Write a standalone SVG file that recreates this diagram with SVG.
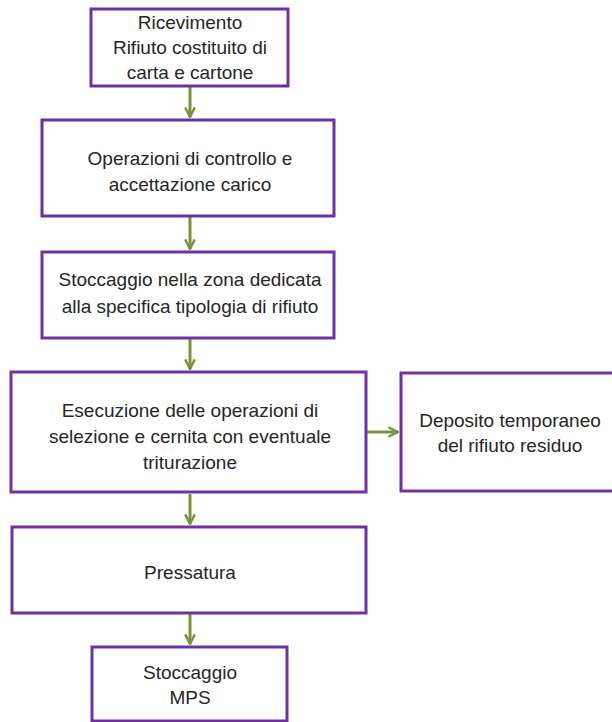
<svg xmlns="http://www.w3.org/2000/svg" width="612" height="722" viewBox="0 0 612 722">
<style>
.box{fill:#fff;stroke:#7030A0;stroke-width:3}
.t{font-family:"Liberation Sans",Arial,sans-serif;font-size:19px;fill:#262626;text-anchor:middle}
.c{stroke:#77933C;stroke-width:3;fill:none}
</style>
<defs>
<marker id="ah" viewBox="0 0 10 10" refX="9" refY="5" markerWidth="4" markerHeight="4" orient="auto" markerUnits="strokeWidth">
<polyline points="1,1 9,5 1,9" fill="none" stroke="#77933C" stroke-width="2"/>
</marker>
</defs>
<rect width="612" height="722" fill="#fff"/>
<g id="connectors">
<line class="c" x1="190" y1="87" x2="190" y2="117" marker-end="url(#ah)"/>
<line class="c" x1="190" y1="217" x2="190" y2="249" marker-end="url(#ah)"/>
<line class="c" x1="190" y1="339" x2="190" y2="369" marker-end="url(#ah)"/>
<line class="c" x1="367" y1="432" x2="398" y2="432" marker-end="url(#ah)"/>
<line class="c" x1="190" y1="494" x2="190" y2="524" marker-end="url(#ah)"/>
<line class="c" x1="190" y1="614" x2="190" y2="644" marker-end="url(#ah)"/>
</g>
<g id="n1"><rect class="box" x="91" y="9" width="197" height="77"/>
<text class="t" x="190" y="29">Ricevimento</text>
<text class="t" x="190" y="54">Rifiuto costituito di</text>
<text class="t" x="190" y="79">carta e cartone</text></g>
<g id="n2"><rect class="box" x="42" y="120" width="292" height="96"/>
<text class="t" x="190" y="165">Operazioni di controllo e</text>
<text class="t" x="190" y="191">accettazione carico</text></g>
<g id="n3"><rect class="box" x="42" y="252" width="292" height="86"/>
<text class="t" x="190" y="286">Stoccaggio nella zona dedicata</text>
<text class="t" x="190" y="313">alla specifica tipologia di rifiuto</text></g>
<g id="n4"><rect class="box" x="11" y="372" width="355" height="120"/>
<text class="t" x="190" y="417">Esecuzione delle operazioni di</text>
<text class="t" x="190" y="443">selezione e cernita con eventuale</text>
<text class="t" x="190" y="469">triturazione</text></g>
<g id="n5"><rect class="box" x="401" y="373" width="220" height="118"/>
<text class="t" x="510" y="427">Deposito temporaneo</text>
<text class="t" x="510" y="452">del rifiuto residuo</text></g>
<g id="n6"><rect class="box" x="12" y="527" width="354" height="86"/>
<text class="t" x="190" y="579">Pressatura</text></g>
<g id="n7"><rect class="box" x="92" y="647" width="195" height="74"/>
<text class="t" x="190" y="679">Stoccaggio</text>
<text class="t" x="190" y="704">MPS</text></g>
</svg>
